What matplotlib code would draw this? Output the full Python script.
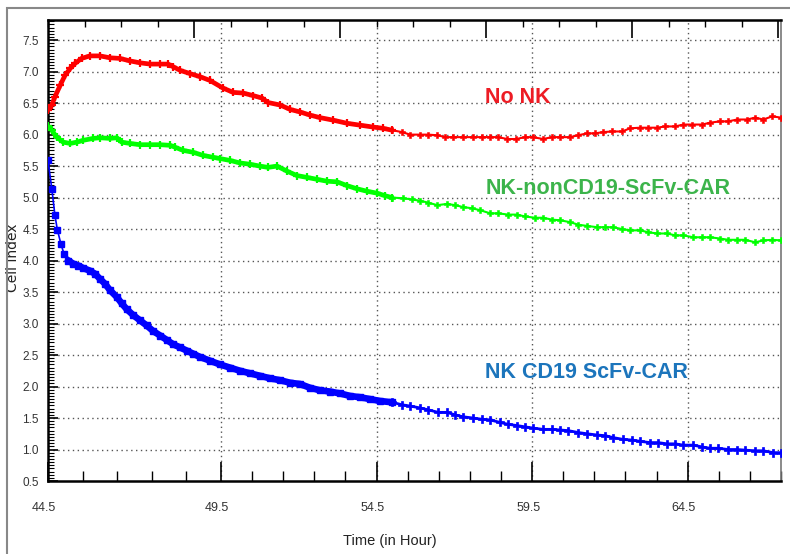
import numpy as np
import matplotlib
matplotlib.use("Agg")
import matplotlib.pyplot as plt
from matplotlib.ticker import MultipleLocator, FixedLocator
from matplotlib.patches import Rectangle
import matplotlib.transforms as mtransforms

# ---------------- data ----------------
no_nk_t = [44.5, 44.61, 44.70, 44.85, 44.99, 45.14, 45.28, 45.47, 45.71, 46.00, 46.29, 46.58, 46.87,
           47.16, 47.45, 47.74, 47.97, 48.11, 48.32, 48.60, 48.89, 49.18, 49.56, 49.89, 50.21, 50.53,
           50.82, 51.01, 51.40, 51.72, 52.04, 52.36, 52.68, 53.10, 53.55, 53.97, 54.39, 54.71, 55.00,
           55.32, 55.58, 55.90, 56.16, 56.45, 56.71, 56.96, 57.28, 57.60, 57.89, 58.15, 58.41, 58.70,
           58.99, 59.27, 59.53, 59.85, 60.14, 60.40, 60.72, 60.98, 61.27, 61.53, 61.78, 62.07, 62.39,
           62.65, 62.97, 63.23, 63.52, 63.78, 64.10, 64.36, 64.64, 64.97, 65.22, 65.54, 65.80, 66.09,
           66.41, 66.67, 66.93, 67.22, 67.50]
no_nk_v = [6.39, 6.47, 6.60, 6.78, 6.94, 7.05, 7.13, 7.21, 7.25, 7.25, 7.22, 7.21, 7.17,
           7.14, 7.12, 7.12, 7.12, 7.08, 7.02, 6.97, 6.92, 6.86, 6.74, 6.67, 6.66, 6.62,
           6.58, 6.51, 6.47, 6.40, 6.36, 6.31, 6.27, 6.23, 6.18, 6.15, 6.12, 6.10, 6.07,
           6.04, 6.00, 6.00, 6.00, 5.99, 5.96, 5.96, 5.96, 5.96, 5.96, 5.96, 5.96, 5.93,
           5.93, 5.96, 5.96, 5.93, 5.96, 5.96, 5.96, 5.99, 6.02, 6.02, 6.04, 6.05, 6.05,
           6.10, 6.11, 6.11, 6.11, 6.13, 6.13, 6.16, 6.16, 6.16, 6.19, 6.21, 6.21, 6.24,
           6.24, 6.27, 6.24, 6.29, 6.27]

nonCD19_t = [44.5, 44.61, 44.75, 44.94, 45.14, 45.33, 45.52, 45.81, 46.00, 46.29, 46.49, 46.63, 46.87,
             47.16, 47.45, 47.74, 48.03, 48.17, 48.40, 48.69, 48.98, 49.27, 49.47, 49.79, 50.11,
             50.43, 50.75, 51.01, 51.30, 51.62, 51.94, 52.27, 52.59, 52.91, 53.23, 53.55, 53.87,
             54.20, 54.52, 54.77, 55.00,
             55.35, 55.64, 55.90, 56.16, 56.45, 56.77, 57.02, 57.28, 57.57, 57.83, 58.15, 58.41,
             58.73, 59.02, 59.27, 59.60, 59.85, 60.14, 60.40, 60.72, 60.98, 61.27, 61.59, 61.85,
             62.10, 62.39, 62.65, 62.97, 63.23, 63.52, 63.84, 64.10, 64.36, 64.68, 64.97, 65.22,
             65.54, 65.80, 66.09, 66.35, 66.67, 66.93, 67.22, 67.50]
nonCD19_v = [6.13, 6.07, 5.96, 5.88, 5.86, 5.88, 5.91, 5.94, 5.95, 5.94, 5.95, 5.88, 5.86,
             5.84, 5.84, 5.84, 5.83, 5.80, 5.75, 5.72, 5.67, 5.64, 5.62, 5.59, 5.55,
             5.53, 5.50, 5.48, 5.50, 5.42, 5.35, 5.32, 5.29, 5.26, 5.25, 5.19, 5.14,
             5.10, 5.07, 5.03, 5.00,
             4.99, 4.97, 4.95, 4.92, 4.88, 4.90, 4.88, 4.85, 4.83, 4.80, 4.75, 4.75,
             4.73, 4.73, 4.70, 4.68, 4.68, 4.65, 4.64, 4.61, 4.57, 4.55, 4.53, 4.53,
             4.53, 4.50, 4.48, 4.48, 4.45, 4.43, 4.43, 4.40, 4.40, 4.37, 4.37, 4.37,
             4.35, 4.33, 4.33, 4.33, 4.29, 4.32, 4.33, 4.32]

cd19_t = [44.5, 44.61, 44.70, 44.77, 44.87, 44.96, 45.09, 45.23, 45.38, 45.52, 45.71, 45.86, 46.00,
          46.15, 46.29, 46.49, 46.63, 46.77, 46.97, 47.16, 47.35, 47.54, 47.74, 47.93, 48.12,
          48.32, 48.51, 48.70, 48.89, 49.18, 49.47, 49.79, 50.11, 50.43, 50.75, 51.08, 51.40,
          51.72, 52.04, 52.36, 52.68, 53.00, 53.33, 53.65, 53.97, 54.29, 54.61, 55.00,
          55.32, 55.58, 55.90, 56.16, 56.48, 56.77, 57.02, 57.28, 57.60, 57.89, 58.15, 58.47,
          58.73, 59.02, 59.27, 59.53, 59.85, 60.14, 60.40, 60.66, 60.98, 61.27, 61.59, 61.85,
          62.10, 62.43, 62.72, 62.97, 63.29, 63.55, 63.84, 64.10, 64.36, 64.68, 64.97, 65.22,
          65.48, 65.80, 66.09, 66.35, 66.67, 66.93, 67.25, 67.50]
cd19_v = [5.59, 5.14, 4.72, 4.49, 4.27, 4.11, 4.00, 3.95, 3.92, 3.88, 3.84, 3.79, 3.71,
          3.63, 3.53, 3.42, 3.32, 3.23, 3.13, 3.05, 2.97, 2.88, 2.81, 2.74, 2.67,
          2.62, 2.57, 2.52, 2.47, 2.41, 2.35, 2.30, 2.25, 2.21, 2.17, 2.13, 2.10,
          2.06, 2.04, 1.98, 1.94, 1.92, 1.89, 1.85, 1.83, 1.80, 1.77, 1.75,
          1.71, 1.69, 1.66, 1.63, 1.59, 1.59, 1.55, 1.52, 1.50, 1.48, 1.47, 1.43,
          1.40, 1.38, 1.36, 1.34, 1.32, 1.32, 1.31, 1.30, 1.27, 1.25, 1.23, 1.22,
          1.19, 1.16, 1.15, 1.13, 1.11, 1.11, 1.09, 1.09, 1.07, 1.07, 1.04, 1.02,
          1.02, 1.00, 1.00, 0.99, 0.98, 0.98, 0.95, 0.95]

series_labels = ["No NK", "NK-nonCD19-ScFv-CAR", "NK CD19 ScFv-CAR"]
x_ticks = [44.5, 49.5, 54.5, 59.5, 64.5]
y_ticks = [0.5, 1.0, 1.5, 2.0, 2.5, 3.0, 3.5, 4.0, 4.5, 5.0, 5.5, 6.0, 6.5, 7.0, 7.5]
x_label = "Time (in Hour)"
y_label = "Cell Index"
interval_change = 55.0   # measurement interval changes here (dense -> sparse)

font = "Liberation Sans"

# ---------------- figure ----------------
fig = plt.figure(figsize=(7.9, 5.54), dpi=100)
W, H = 790, 554
ax = fig.add_axes([48 / W, (H - 481) / H, (781 - 48) / W, (481 - 20) / H])

# x scale: first segment (44.5-49.5) is drawn wider than the rest
k = 34.6 / 31.1
def fwd(t):
    t = np.asarray(t, dtype=float)
    return np.where(t < 49.5, 49.5 - (49.5 - t) * k, t)
def inv(u):
    u = np.asarray(u, dtype=float)
    return np.where(u < 49.5, 49.5 - (49.5 - u) / k, u)
ax.set_xscale("function", functions=(fwd, inv))
ax.set_xlim(44.5, 67.5)
ax.set_ylim(0.5, 7.82)

def draw(t, v, color):
    t = np.asarray(t); v = np.asarray(v)
    d = t <= interval_change
    s = t >= interval_change
    ax.plot(t[d], v[d], color=color, lw=3.4, solid_capstyle="round", zorder=3)
    ax.plot(t[d], v[d], color=color, lw=0, marker="+", ms=5.5, mew=1.6, zorder=4)
    ax.plot(t[s], v[s], color=color, lw=1.5, marker="P", ms=4.5, mew=0.4,
            mec=color, mfc=color, zorder=4)

draw(no_nk_t, no_nk_v, "#ff0000")
draw(nonCD19_t, nonCD19_v, "#00ff00")

# blue: squares on a thin line, thick dense band, then sparse crosses
bt = np.asarray(cd19_t); bv = np.asarray(cd19_v)
d = bt <= interval_change
ax.plot(bt[d], bv[d], color="#0000ff", lw=1.2, marker="s", ms=4.5, mec="#0000ff",
        mfc="#0000ff", zorder=4)
band = d & (bt >= 45.0)
ax.plot(bt[band], bv[band], color="#0000ff", lw=4.8, zorder=3)
s = bt >= interval_change
ax.plot(bt[s], bv[s], color="#0000ff", lw=2, marker="P", ms=6, mew=0.5,
        mec="#0000ff", mfc="#0000ff", zorder=4)

# annotations
ann_kw = dict(fontsize=15.5, fontweight="bold", family=font, va="center", ha="left")
ax.text(58.0, 6.59, series_labels[0], color="#ed1c24", **ann_kw)
ax.text(58.0, 5.15, series_labels[1], color="#3cb44b", **ann_kw)
ax.text(58.0, 2.22, series_labels[2], color="#1c75bc", **ann_kw)

# grid
for yv in y_ticks[1:]:
    ax.axhline(yv, color="#555555", lw=1.0, ls=(0, (1, 2.5)), zorder=1)
for xv in x_ticks[1:]:
    ax.axvline(xv, color="#555555", lw=1.0, ls=(0, (1, 2.5)), zorder=1)

# ticks
ax.xaxis.set_major_locator(FixedLocator(x_ticks))
ax.xaxis.set_minor_locator(FixedLocator([45.5, 46.5, 47.5, 48.5] + list(np.arange(50.5, 67.6, 1.0))))
ax.set_xticklabels([f"{x:.1f}" for x in x_ticks])
ax.yaxis.set_major_locator(FixedLocator(y_ticks))
ax.yaxis.set_minor_locator(MultipleLocator(0.05))
ax.set_yticklabels([f"{y:.1f}" for y in y_ticks])

ax.tick_params(axis="x", which="major", direction="in", length=14, width=1.2, pad=15,
               labelsize=9, labelcolor="#333333", top=False)
ax.tick_params(axis="x", which="minor", direction="in", length=7, width=1.0, top=False)
ax.tick_params(axis="y", which="major", direction="in", length=7, width=1.2, pad=6.5,
               labelsize=8.5, labelcolor="#333333", right=False)
ax.tick_params(axis="y", which="minor", direction="in", length=4, width=0.8, right=False)
for lab in ax.get_xticklabels() + ax.get_yticklabels():
    lab.set_family(font)
offset = mtransforms.ScaledTranslation(-4 / 100, 0, fig.dpi_scale_trans)
for lab in ax.get_xticklabels():
    lab.set_transform(lab.get_transform() + offset)

# top ticks (independent spacing)
ax2 = ax.twiny()
ax2.set_xlim(0, 733 / 36.5)
ax2.xaxis.set_ticks_position("top")
ax2.xaxis.set_major_locator(FixedLocator([4, 8, 12, 16, 20]))
ax2.xaxis.set_minor_locator(MultipleLocator(1))
ax2.tick_params(axis="x", which="major", direction="in", length=13, width=1.2, labeltop=False)
ax2.tick_params(axis="x", which="minor", direction="in", length=5, width=1.0)
for sp in ax2.spines.values():
    sp.set_visible(False)

# spines
for name in ["left", "bottom", "top"]:
    ax.spines[name].set_linewidth(1.8)
    ax.spines[name].set_color("black")
ax.spines["right"].set_linewidth(1.2)
ax.spines["right"].set_color("#777777")

# axis labels
ax.set_xlabel(x_label, family=font, fontsize=10.5, color="#222222")
ax.xaxis.set_label_coords((390 - 48) / 733, (481 - 541) / 460)
ax.xaxis.label.set_va("center")
ax.set_ylabel(y_label, family="DejaVu Sans", fontsize=10, color="#222222")
ax.yaxis.set_label_coords((13 - 48) / 733, (481 - 258) / 460)
ax.yaxis.label.set_va("center")

# outer frame
fig.add_artist(Rectangle((7 / W, -0.05), 1.2, (H - 8) / H + 0.05, transform=fig.transFigure,
                         fill=False, edgecolor="#888888", lw=1.5))

fig.savefig("out.png", dpi=100)
